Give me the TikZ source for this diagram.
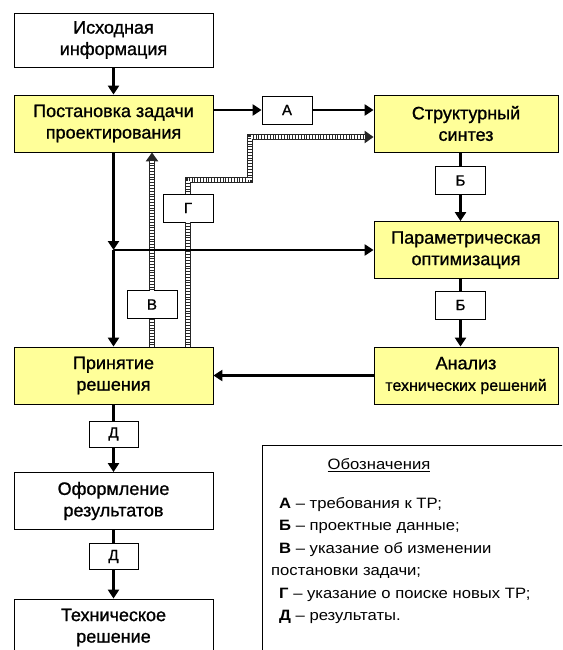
\documentclass[tikz,border=0pt]{standalone}
\usepackage{fontspec}
\setmainfont{Liberation Sans}
\newfontfamily\boxfont[FakeBold=1]{Liberation Sans}
\newfontfamily\legendfont[FakeStretch=1.11]{Liberation Sans}
\usetikzlibrary{arrows.meta, positioning, calc}
\definecolor{boxyellow}{RGB}{255,255,153}

\tikzset{
  blk/.style={draw, line width=0.8pt, align=center, minimum width=199pt,
    minimum height=57pt, inner sep=2pt, font=\fontsize{18}{21.5}\boxfont},
  stage/.style={blk, fill=boxyellow},
  rstage/.style={stage, minimum width=184pt},
  tag/.style={draw, line width=0.8pt, fill=white, minimum width=50pt,
    minimum height=28pt, inner sep=0pt, font=\fontsize{15}{15}\boxfont},
  link/.style={line width=2.8pt},
  flow/.style={link, -{Triangle[length=9pt,width=11pt]}},
  hatchline/.style={line width=6pt, black!85,
    postaction={draw=white, line width=3.6pt, dash pattern=on 0.55pt off 1pt}},
  hatch/.style={line width=6pt, black!85, -{Triangle[length=9pt,width=12pt]},
    postaction={draw=white, line width=3.6pt, dash pattern=on 0.55pt off 1pt,
      shorten >=9pt, arrows=-}}
}

\begin{document}
\begin{tikzpicture}[x=1pt, y=-1pt]
  \useasboundingbox (0,0) rectangle (562,650);
  \clip (0,0) rectangle (562,650);

  % left column
  \node[blk, minimum height=54pt] (ish) at (113.5,40) {Исходная\\информация};
  \node[stage] (post) at (113.5,123.5) {Постановка задачи\\проектирования};
  \node[stage] (prin) at (113.5,375.5) {Принятие\\решения};
  \node[blk] (oform) at (113.5,501) {Оформление\\результатов};
  \node[blk] (tech) at (113.5,627.5) {Техническое\\решение};

  % right column
  \node[rstage] (struct) at (466,123.5) {Структурный\\синтез};
  \node[rstage] (param) at (466,250) {Параметрическая\\оптимизация};
  \node[rstage] (anal) at (466,375.5)
    {Анализ\\{\fontsize{16}{18}\selectfont технических решений}};

  % letter tags
  \node[tag] (tA) at (287,110) {А};
  \node[tag] (tB1) at (460.5,180.5) {Б};
  \node[tag] (tB2) at (460.5,305) {Б};
  \node[tag] (tV) at (152,304.5) {В};
  \node[tag] (tG) at (188,208) {Г};
  \node[tag, minimum width=49pt, minimum height=26pt] (tD1) at (113.5,434) {Д};
  \node[tag, minimum width=49pt, minimum height=26pt] (tD2) at (113.5,556.5) {Д};
  \coordinate (jn) at (post.south |- param.west);

  % feedback (hatched)
  \draw[hatchline] (prin.north -| tV) -- (tV.south);
  \draw[hatch] (tV.north) -- (post.south -| tV);
  \draw[hatchline] (prin.north -| tG) -- (tG.south);
  \draw[hatch] (tG.north) -- (tG.north |- 0,180) -- (250,180) -- (250,137)
    -- (struct.west |- 0,137);

  % main flow
  \draw[flow] (ish) -- (post);
  \draw[flow] (post.east |- tA) -- (tA);
  \draw[flow] (tA) -- (struct.west |- tA);
  \draw[link] (struct.south -| tB1) -- (tB1);
  \draw[flow] (tB1) -- (param.north -| tB1);
  \draw[link] (param.south -| tB2) -- (tB2);
  \draw[flow] (tB2) -- (anal.north -| tB2);
  \draw[flow] (anal) -- (prin);
  \draw[flow] (post) -- (jn);
  \draw[flow] (jn) -- (prin);
  \draw[flow] (jn) -- (param);
  \draw[link] (prin) -- (tD1);
  \draw[flow] (tD1) -- (oform);
  \draw[link] (oform) -- (tD2);
  \draw[flow] (tD2) -- (tech);

  % legend
  \node[draw, line width=0.8pt, anchor=north west, minimum width=340pt,
    minimum height=260pt] (legend) at (262,445) {};
  \node[font=\fontsize{15}{15}\legendfont] (ttl) at (379,465) {\underline{Обозначения}};
  \node[anchor=north west, align=left, inner sep=0pt,
    font=\fontsize{15}{22.5}\legendfont] (keys) at (271,497) {%
    \hspace*{8pt}\textbf{А} – требования к ТР;\\
    \hspace*{8pt}\textbf{Б} – проектные данные;\\
    \hspace*{8pt}\textbf{В} – указание об изменении\\
    постановки задачи;\\
    \hspace*{8pt}\textbf{Г} – указание о поиске новых ТР;\\
    \hspace*{8pt}\textbf{Д} – результаты.};
\end{tikzpicture}
\end{document}
